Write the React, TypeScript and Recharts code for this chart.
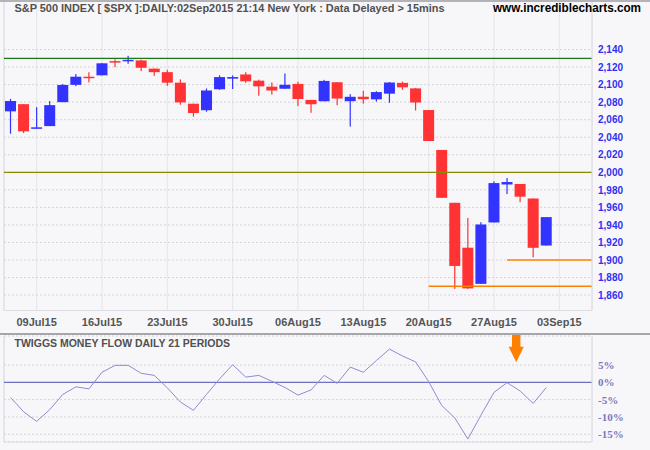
import React from 'react';
import {
  ComposedChart,
  LineChart,
  Line,
  Bar,
  XAxis,
  YAxis,
  CartesianGrid,
  ReferenceLine,
  ReferenceDot,
} from 'recharts';

// ---- data ----
const dates = [
  '07Jul15', '08Jul15', '09Jul15', '10Jul15',
  '13Jul15', '14Jul15', '15Jul15', '16Jul15', '17Jul15',
  '20Jul15', '21Jul15', '22Jul15', '23Jul15', '24Jul15',
  '27Jul15', '28Jul15', '29Jul15', '30Jul15', '31Jul15',
  '03Aug15', '04Aug15', '05Aug15', '06Aug15', '07Aug15',
  '10Aug15', '11Aug15', '12Aug15', '13Aug15', '14Aug15',
  '17Aug15', '18Aug15', '19Aug15', '20Aug15', '21Aug15',
  '24Aug15', '25Aug15', '26Aug15', '27Aug15', '28Aug15',
  '31Aug15', '01Sep15', '02Sep15',
];
const opens = [
  2069.5, 2077.7, 2049.7, 2052.7,
  2080.0, 2099.7, 2109.0, 2110.6, 2126.8,
  2126.9, 2127.6, 2118.2, 2114.2, 2102.2,
  2078.2, 2070.8, 2094.7, 2106.8, 2111.6,
  2104.5, 2097.7, 2095.3, 2100.8, 2082.6,
  2081.0, 2102.7, 2081.1, 2086.2, 2083.2,
  2089.7, 2102.0, 2095.7, 2071.0, 2025.5,
  1965.2, 1914.0, 1872.8, 1942.8, 1986.1,
  1986.7, 1970.1, 1916.5,
];
const highs = [
  2083.7, 2077.7, 2074.3, 2081.3,
  2100.7, 2112.0, 2114.1, 2124.4, 2128.9,
  2132.8, 2128.5, 2118.5, 2116.9, 2106.0,
  2078.2, 2095.6, 2110.6, 2110.5, 2114.2,
  2105.7, 2102.5, 2112.7, 2103.3, 2082.6,
  2105.4, 2102.7, 2089.1, 2092.9, 2092.5,
  2102.9, 2103.5, 2096.2, 2071.0, 2025.5,
  1965.2, 1948.0, 1943.1, 1989.6, 1993.5,
  1986.7, 1970.1, 1948.9,
];
const lows = [
  2044.0, 2044.7, 2049.7, 2052.7,
  2080.0, 2098.2, 2102.5, 2110.6, 2119.9,
  2123.7, 2115.4, 2110.0, 2098.6, 2077.1,
  2063.5, 2069.1, 2094.1, 2095.0, 2102.1,
  2087.3, 2088.6, 2095.3, 2075.5, 2067.9,
  2081.0, 2076.5, 2052.1, 2078.3, 2080.6,
  2079.3, 2094.1, 2070.5, 2035.7, 1970.9,
  1867.0, 1867.1, 1872.8, 1942.8, 1975.2,
  1966.0, 1903.1, 1916.5,
];
const closes = [
  2081.3, 2046.7, 2051.3, 2076.6,
  2099.6, 2109.0, 2107.4, 2124.3, 2126.6,
  2128.3, 2119.2, 2114.2, 2102.2, 2079.7,
  2067.6, 2093.3, 2108.6, 2108.6, 2103.8,
  2098.0, 2093.3, 2099.8, 2083.6, 2077.6,
  2104.2, 2084.1, 2086.1, 2083.4, 2091.5,
  2102.4, 2096.9, 2079.6, 2035.7, 1970.9,
  1893.2, 1867.6, 1940.5, 1987.7, 1988.9,
  1972.2, 1913.9, 1948.9,
];
const moneyFlow = [
  -4.4, -8.5, -11.3, -7.9,
  -3.5, -1.3, -1.9, 2.9, 4.9,
  4.9, 2.6, 2.0, -1.6, -5.7,
  -8.1, -3.5, 1.0, 5.1, 1.5,
  2.0, 0.3, -1.5, -3.7, -2.2,
  2.0, -0.3, 4.4, 2.9, 6.3,
  9.6, 7.6, 5.9, 0.2, -6.7,
  -10.3, -16.4, -9.5, -2.9, -0.1,
  -2.5, -6.1, -1.5,
];

const SLOTS = 45; // trading-day slots on the axis (includes empty future days)
const tickIndex = [2, 7, 12, 17, 22, 27, 32, 37, 42];
const tickLabels = ['09Jul15', '16Jul15', '23Jul15', '30Jul15', '06Aug15', '13Aug15', '20Aug15', '27Aug15', '03Sep15'];
const priceTicks = [1860, 1880, 1900, 1920, 1940, 1960, 1980, 2000, 2020, 2040, 2060, 2080, 2100, 2120, 2140];
const priceDomain = [1842.4, 2196.5];
const flowTicks = [-15, -10, -5, 0, 5];
const flowDomain = [-17.25, 13.38];

const resistanceLevel = 2130;
const roundLevel = 2000;
const supportLow = { from: 32, level: 1870 };
const supportHigh = { from: 38, level: 1900 };
const arrowAt = { x: 38.7, y: 5.8 };

const priceData = dates.map((d, i) => ({
  i,
  date: d,
  open: opens[i],
  high: highs[i],
  low: lows[i],
  close: closes[i],
  range: [lows[i], highs[i]],
}));
const flowData = dates.map((d, i) => ({ i, date: d, mf: moneyFlow[i] }));
const xDomain = [-0.5, SLOTS - 0.5];

const BG = '#f7f7fa';
const SANS = '"Liberation Sans", Arial, sans-serif';
const SERIF = '"Liberation Serif", "Times New Roman", serif';

const Candle = (props: any) => {
  const { x, y, width, height, payload } = props;
  if (!payload || x == null || y == null) return null;
  const top = Math.min(y, y + height);
  const bot = Math.max(y, y + height);
  const { open, close, high, low } = payload;
  const k = (bot - top) / (high - low || 1);
  const py = (v: number) => top + (high - v) * k;
  const up = close >= open;
  const color = up ? '#3333ff' : '#ff3333';
  const cx = x + width / 2;
  const bTop = py(Math.max(open, close));
  const bBot = py(Math.min(open, close));
  return (
    <g>
      <rect x={cx - 0.6} y={top} width={1.2} height={Math.max(bot - top, 1)} fill={color} />
      <rect x={x} y={bTop} width={width} height={Math.max(bBot - bTop, 1.5)} fill={color} />
    </g>
  );
};

const DateTick = (props: any) => {
  const { x, y, payload } = props;
  const k = tickIndex.indexOf(payload.value);
  return (
    <text x={x} y={y} dy={15.5} textAnchor="middle" fill="#555" fontFamily={SANS} fontWeight="bold" fontSize={11}>
      {k >= 0 ? tickLabels[k] : ''}
    </text>
  );
};

const PriceTick = (props: any) => {
  const { x, y, payload } = props;
  return (
    <text x={x} y={y} dy={3.7} textAnchor="start" fill="#3030f0" fontFamily={SANS} fontWeight="bold" fontSize={10}>
      {Number(payload.value).toLocaleString('en-US')}
    </text>
  );
};

const FlowTick = (props: any) => {
  const { x, y, payload } = props;
  return (
    <text x={x} y={y} dy={4} textAnchor="start" fill="#7878c0" fontFamily={SERIF} fontWeight="bold" fontSize={11}>
      {`${payload.value}%`}
    </text>
  );
};

const Arrow = (props: any) => {
  const { cx, cy } = props;
  if (cx == null || cy == null) return null;
  return (
    <g>
      <rect x={cx - 4.2} y={cy - 27.6} width={8.4} height={12.5} fill="#ff8000" />
      <polygon points={`${cx - 7.6},${cy - 15.6} ${cx + 7.6},${cy - 15.6} ${cx},${cy}`} fill="#ff8000" />
    </g>
  );
};

export default function App() {
  return (
    <div style={{ position: 'absolute', left: 0, top: 0, width: 650, height: 450, background: BG, overflow: 'hidden' }}>
      <div style={{ position: 'absolute', left: 0, top: 0 }}>
        <ComposedChart width={650} height={334} data={priceData} margin={{ top: 0, right: 0, bottom: 0, left: 4 }}>
          <CartesianGrid vertical horizontal={false} stroke="#e4e4ea" />
          <CartesianGrid vertical={false} horizontal stroke="#d4d4d8" strokeDasharray="2 2" />
          <XAxis
            type="number"
            dataKey="i"
            domain={xDomain}
            allowDataOverflow
            ticks={tickIndex}
            interval={0}
            height={23.5}
            tickLine={false}
            tickSize={0}
            tickMargin={0}
            axisLine={{ stroke: '#dcdce2' }}
            tick={<DateTick />}
          />
          <YAxis
            orientation="right"
            width={58}
            domain={priceDomain}
            allowDataOverflow
            ticks={priceTicks}
            interval={0}
            tickLine={false}
            tickSize={0}
            tickMargin={6}
            axisLine={{ stroke: '#dcdce2' }}
            tick={<PriceTick />}
          />
          <ReferenceLine x={xDomain[0]} stroke="#dcdce2" />
          <ReferenceLine y={resistanceLevel} stroke="#1a7a1a" strokeWidth={1.2} />
          <ReferenceLine y={roundLevel} stroke="#8a8a00" strokeWidth={1.2} />
          <ReferenceLine
            segment={[{ x: supportLow.from, y: supportLow.level }, { x: xDomain[1], y: supportLow.level }]}
            stroke="#ff8000"
            strokeWidth={1.5}
          />
          <ReferenceLine
            segment={[{ x: supportHigh.from, y: supportHigh.level }, { x: xDomain[1], y: supportHigh.level }]}
            stroke="#ff8000"
            strokeWidth={1.5}
          />
          <Bar dataKey="range" barSize={11} isAnimationActive={false} shape={(p: any) => <Candle {...p} />} />
        </ComposedChart>
      </div>
      <div style={{ position: 'absolute', left: 0, top: 334 }}>
        <LineChart width={650} height={116} data={flowData} margin={{ top: 2, right: 0, bottom: 0, left: 4 }}>
          <CartesianGrid vertical horizontal={false} stroke="#e4e4ea" />
          <CartesianGrid vertical={false} horizontal stroke="#d4d4d8" strokeDasharray="2 2" />
          <XAxis
            type="number"
            dataKey="i"
            domain={xDomain}
            allowDataOverflow
            ticks={tickIndex}
            interval={0}
            height={8}
            tickLine={false}
            tick={false}
            axisLine={{ stroke: '#dcdce2' }}
          />
          <YAxis
            orientation="right"
            width={58}
            domain={flowDomain}
            allowDataOverflow
            ticks={flowTicks}
            interval={0}
            tickLine={false}
            tickSize={0}
            tickMargin={6}
            axisLine={{ stroke: '#dcdce2' }}
            tick={<FlowTick />}
          />
          <ReferenceLine x={xDomain[0]} stroke="#dcdce2" />
          <ReferenceLine y={0} stroke="#7272c4" strokeWidth={1.2} />
          <Line type="linear" dataKey="mf" stroke="#8c8cd2" strokeWidth={1} dot={false} isAnimationActive={false} />
          <ReferenceDot x={arrowAt.x} y={arrowAt.y} ifOverflow="visible" shape={(p: any) => <Arrow {...p} />} />
        </LineChart>
      </div>
      <div style={{ position: 'absolute', left: 0, top: 0, width: 650, height: 2, background: '#b4b4b8' }} />
      <div style={{ position: 'absolute', left: 0, top: 333, width: 650, height: 2, background: '#a6a6aa' }} />
      <svg width={650} height={450} style={{ position: 'absolute', left: 0, top: 0, pointerEvents: 'none' }}>
        <text x={14.5} y={12} fill="#505050" fontFamily={SANS} fontWeight="bold" fontSize={11} textLength={430} lengthAdjust="spacingAndGlyphs">
          S&amp;P 500 INDEX [ $SPX ]:DAILY:02Sep2015 21:14 New York : Data Delayed &gt; 15mins
        </text>
        <text x={493} y={12.3} fill="#000" fontFamily={SANS} fontWeight="bold" fontSize={12} textLength={148} lengthAdjust="spacingAndGlyphs">
          www.incrediblecharts.com
        </text>
        <text x={14.5} y={346.5} fill="#505050" fontFamily={SANS} fontWeight="bold" fontSize={11} textLength={215.5} lengthAdjust="spacingAndGlyphs">
          TWIGGS MONEY FLOW DAILY 21 PERIODS
        </text>
      </svg>
    </div>
  );
}
